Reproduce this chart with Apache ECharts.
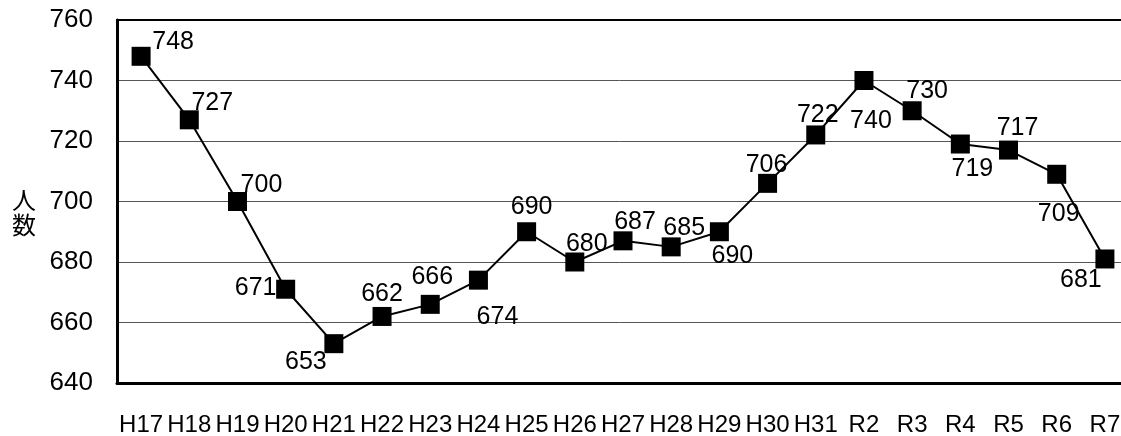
<!DOCTYPE html>
<html>
<head>
<meta charset="utf-8">
<script src="https://cdn.jsdelivr.net/npm/echarts@6/dist/echarts.min.js"></script>
<style>
  html, body { margin: 0; padding: 0; background: #fff; }
  #chart { width: 1121px; height: 436px; }
</style>
</head>
<body>
<div id="chart"></div>
<script>
// Data
const years = ['H17', 'H18', 'H19', 'H20', 'H21', 'H22', 'H23', 'H24', 'H25', 'H26', 'H27',
  'H28', 'H29', 'H30', 'H31', 'R2', 'R3', 'R4', 'R5', 'R6', 'R7'];
const counts = [748, 727, 700, 671, 653, 662, 666, 674, 690, 680, 687,
  685, 690, 706, 722, 740, 730, 719, 717, 709, 681];
const yTicks = [640, 660, 680, 700, 720, 740, 760];

// Label offsets from the marker centre (style, kept apart from the data)
const labelOffsets = [
  [32, -14], [23, -17], [24, -16], [-30, -1], [-28, 18], [0, -22], [2, -27],
  [19, 37], [5, -25], [12, -18], [12, -19], [13, -19], [13, 24], [-1, -18],
  [2, -20], [7, 41], [15, -20], [12, 25], [9, -22], [2, 40], [-24, 21]
];

const font = '"Liberation Sans", Arial, sans-serif';
const chart = echarts.init(document.getElementById('chart'));

chart.setOption({
  animation: false,
  // plot runs a little past the right edge of the canvas, like the original
  grid: { left: 117, top: 20, width: 1012, height: 363, outerBoundsMode: 'none' },
  textStyle: { fontFamily: font },
  // vertical axis title
  graphic: [{
    type: 'text',
    left: 12,
    top: 187,
    style: {
      text: '人\n数',
      fill: '#000',
      font: '24px "Noto Sans CJK JP", sans-serif',
      lineHeight: 25
    }
  }],
  xAxis: [
    {
      type: 'category',
      data: years,
      boundaryGap: true,
      axisLine: { lineStyle: { color: '#000', width: 3 } },
      axisTick: { inside: true, length: 5, lineStyle: { color: '#333', width: 1 } },
      axisLabel: { color: '#000', fontSize: 24, fontFamily: font, margin: 30, interval: 0 },
      splitLine: { show: false }
    },
    {
      type: 'category',
      position: 'top',
      data: years,
      axisLine: { lineStyle: { color: '#000', width: 2 } },
      axisTick: { show: false },
      axisLabel: { show: false }
    }
  ],
  yAxis: {
    type: 'value',
    min: yTicks[0],
    max: yTicks[yTicks.length - 1],
    interval: 20,
    axisLine: { show: true, lineStyle: { color: '#000', width: 3 } },
    axisTick: { show: false },
    axisLabel: { color: '#000', fontSize: 26, fontFamily: font, margin: 24 },
    splitLine: { lineStyle: { color: '#555', width: 1 } }
  },
  series: [{
    type: 'line',
    data: counts.map((v, i) => ({
      value: v,
      label: { offset: labelOffsets[i] }
    })),
    symbol: 'rect',
    symbolSize: 19,
    itemStyle: { color: '#000' },
    lineStyle: { color: '#000', width: 2 },
    label: {
      show: true,
      position: 'inside',
      color: '#000',
      fontSize: 25,
      fontFamily: font
    }
  }]
});
</script>
</body>
</html>
